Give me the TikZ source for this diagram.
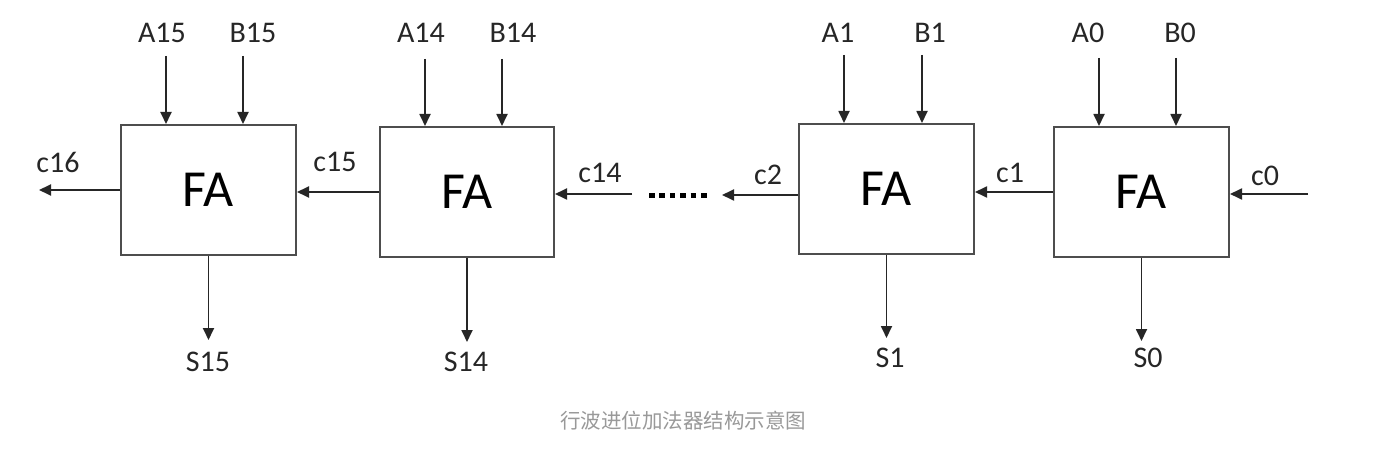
\documentclass[tikz,border=0pt]{standalone}
\usepackage{fontspec}
\setmainfont{Carlito}
\newfontfamily\cjk{Noto Sans CJK SC}
\usetikzlibrary{arrows.meta}
\definecolor{boxc}{HTML}{4D4D4D}
\definecolor{linec}{HTML}{262626}
\definecolor{capc}{HTML}{999999}
\begin{document}
\begin{tikzpicture}[x=1pt,y=-1pt,
  fabox/.style={draw=boxc,line width=2pt,minimum width=175pt,minimum height=130pt,inner sep=0pt,
     font=\fontsize{52}{60}\selectfont,text=black},
  lbl/.style={font=\fontsize{30}{36}\selectfont,text=linec,inner sep=0pt},
  arr/.style={draw=linec,line width=1.8pt,-{Triangle[length=12pt,width=11pt]}},
  ]
\useasboundingbox (0,0) rectangle (1397,454);
\fill[white] (0,0) rectangle (1397,454);
% boxes
\node[fabox] (f15) at (208.5,190) {FA};
\node[fabox,minimum width=174pt] (f14) at (467,192) {FA};
\node[fabox] (f1) at (886.5,189) {FA};
\node[fabox] (f0) at (1141.5,192) {FA};
% input labels
\node[lbl] (A15) at (162,33) {A15};
\node[lbl] (B15) at (253,33) {B15};
\node[lbl] (A14) at (421,33) {A14};
\node[lbl] (B14) at (513,33) {B14};
\node[lbl] (A1) at (838,33) {A1};
\node[lbl] (B1) at (930,33) {B1};
\node[lbl] (A0) at (1088,33) {A0};
\node[lbl] (B0) at (1180,33) {B0};
% input arrow starts
\coordinate (ia15) at (166,56);
\coordinate (ib15) at (243,56);
\coordinate (ia14) at (425,59);
\coordinate (ib14) at (502,59);
\coordinate (ia1) at (844,55);
\coordinate (ib1) at (922,55);
\coordinate (ia0) at (1099,58);
\coordinate (ib0) at (1176,58);
\draw[arr] (ia15) -- (ia15 |- f15.north);
\draw[arr] (ib15) -- (ib15 |- f15.north);
\draw[arr] (ia14) -- (ia14 |- f14.north);
\draw[arr] (ib14) -- (ib14 |- f14.north);
\draw[arr] (ia1) -- (ia1 |- f1.north);
\draw[arr] (ib1) -- (ib1 |- f1.north);
\draw[arr] (ia0) -- (ia0 |- f0.north);
\draw[arr] (ib0) -- (ib0 |- f0.north);
% carry chain
\coordinate (c16e) at (39,190);
\draw[arr] (f15.west) -- (c16e);
\draw[arr] (f14.west) -- (f14.west -| f15.east);
\coordinate (c14s) at (632,194);
\draw[arr] (c14s) -- (c14s -| f14.east);
\coordinate (dl) at (649,195.5);
\coordinate (dr) at (707,195.5);
\draw[line width=5.5pt,draw=black,dash pattern=on 5.5pt off 4.9pt] (dl) -- (dr);
\coordinate (c2e) at (722,195);
\draw[arr] (c2e -| f1.west) -- (c2e);
\draw[arr] (f0.west) -- (f0.west -| f1.east);
\coordinate (c0s) at (1308,194);
\draw[arr] (c0s) -- (c0s -| f0.east);
% carry labels
\node[lbl] (c16) at (58,162) {c16};
\node[lbl] (c15) at (335,162) {c15};
\node[lbl] (c14) at (600,173) {c14};
\node[lbl] (c2) at (768,175) {c2};
\node[lbl] (c1) at (1010,173) {c1};
\node[lbl] (c0) at (1265,176) {c0};
% sums
\coordinate (s15e) at (208.5,340);
\coordinate (s14e) at (467,342);
\coordinate (s1e) at (886.5,338);
\coordinate (s0e) at (1141.5,341);
\draw[arr] (f15.south) -- (s15e);
\draw[arr] (f14.south) -- (s14e);
\draw[arr] (f1.south) -- (s1e);
\draw[arr] (f0.south) -- (s0e);
\node[lbl] (S15) at (208,362) {S15};
\node[lbl] (S14) at (466,362) {S14};
\node[lbl] (S1) at (890,358) {S1};
\node[lbl] (S0) at (1148,358) {S0};
% caption
\node[font=\cjk\fontsize{20.5}{24}\selectfont,text=capc,inner sep=0pt] (cap) at (683,421) {行波进位加法器结构示意图};
\end{tikzpicture}
\end{document}
